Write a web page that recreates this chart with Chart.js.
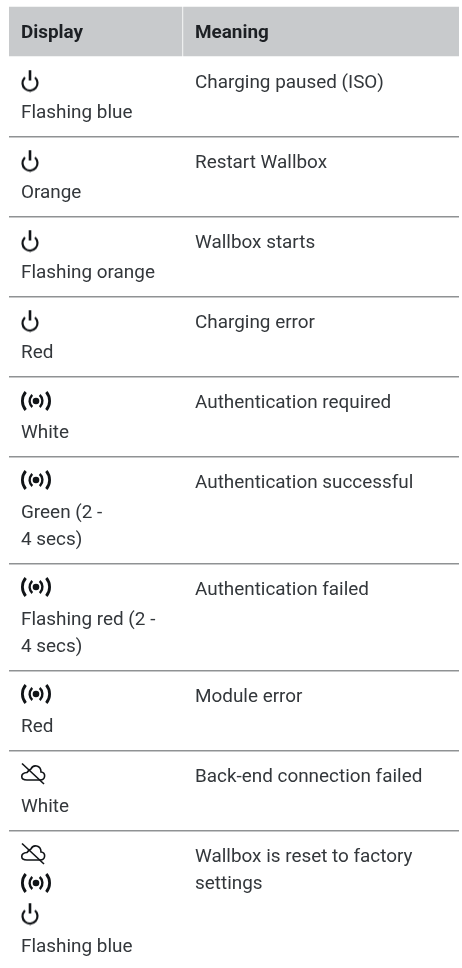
<!DOCTYPE html>
<html>
<head>
<meta charset="utf-8">
<style>
html, body { margin: 0; padding: 0; background: #fff; }
#wrap { width: 462px; height: 968px; }
</style>
<script src="https://cdn.jsdelivr.net/npm/chart.js@4"></script>
</head>
<body>
<div id="wrap"><canvas id="table"></canvas></div>
<script>
// table rows, top to bottom
const headers = ["Display", "Meaning"]
const headerY = 38
const displayLabels = ["Flashing blue", "Orange", "Flashing orange", "Red", "White", "Green (2 -", "4 secs)", "Flashing red (2 -", "4 secs)", "Red", "White", "Flashing blue"]
const displayY = [117.5, 197.5, 278, 357.5, 437.5, 517.5, 544.5, 625, 651.5, 731.5, 811.5, 951.5]
const meaningLabels = ["Charging paused (ISO)", "Restart Wallbox", "Wallbox starts", "Charging error", "Authentication required", "Authentication successful", "Authentication failed", "Module error", "Back-end connection failed", "Wallbox is reset to factory", "settings"]
const meaningY = [88, 168, 248, 328, 408, 488, 595, 702, 782, 862, 889]
const rowLines = [137, 217, 297, 377, 457, 564, 671, 751, 831]
const powerY = [81, 161, 241, 321, 914]
const signalY = [401, 480, 587, 694, 883]
const cloudY = [774, 854]
const headerCols = [[9, 182], [183.5, 459]]
const headerBand = 31.5

const inkColor = "#111417"
const textColor = "#33373b"

function iconCanvas(w, h, draw) {
	let c = document.createElement("canvas")
	c.width = w
	c.height = h
	let g = c.getContext("2d")
	g.strokeStyle = inkColor
	g.fillStyle = inkColor
	g.lineWidth = 2
	draw(g)
	return c
}

let powerIcon = iconCanvas(20, 23, g => {
	g.lineWidth = 2.2
	g.beginPath()
	g.arc(10, 13.6, 7.5, -0.85, Math.PI + 0.85)
	g.stroke()
	g.lineWidth = 2.6
	g.beginPath()
	g.moveTo(10, 0.5)
	g.lineTo(10, 11)
	g.stroke()
})

let signalIcon = iconCanvas(32, 22, g => {
	g.beginPath()
	g.arc(16, 11, 3.3, 0, Math.PI * 2)
	g.fill()
	g.lineWidth = 2.4
	g.beginPath()
	g.arc(17.6, 11, 8, Math.PI - 0.85, Math.PI + 0.85)
	g.stroke()
	g.beginPath()
	g.arc(14.4, 11, 8, -0.85, 0.85)
	g.stroke()
	g.lineWidth = 2.8
	g.beginPath()
	g.arc(16.4, 11, 14, Math.PI - 0.7, Math.PI + 0.7)
	g.stroke()
	g.beginPath()
	g.arc(15.6, 11, 14, -0.7, 0.7)
	g.stroke()
})

let cloudIcon = iconCanvas(26, 24, g => {
	g.lineWidth = 1.6
	g.beginPath()
	g.moveTo(7, 18)
	g.lineTo(20, 18)
	g.bezierCurveTo(26, 18, 26, 10, 21, 10)
	g.bezierCurveTo(21, 3, 13, 2, 11, 7)
	g.bezierCurveTo(9, 8, 8, 9, 7, 10.5)
	g.bezierCurveTo(0, 11, 0, 18, 7, 18)
	g.stroke()
	g.beginPath()
	g.moveTo(2, 1.5)
	g.lineTo(24, 22)
	g.stroke()
})

const tableText = {
	id: "tableText",
	afterDatasetsDraw(chart) {
		let ctx = chart.ctx
		let x = chart.scales.x
		let y = chart.scales.y
		ctx.save()
		ctx.textAlign = "left"
		ctx.textBaseline = "alphabetic"
		ctx.fillStyle = "#1d2024"
		ctx.font = "bold 18.9px Roboto"
		ctx.fillText(headers[0], x.getPixelForValue(21), y.getPixelForValue(headerY))
		ctx.fillText(headers[1], x.getPixelForValue(195), y.getPixelForValue(headerY))
		ctx.fillStyle = textColor
		ctx.font = "18.9px Roboto"
		for(let i = 0; i < displayLabels.length; ++i) {
			ctx.fillText(displayLabels[i], x.getPixelForValue(21), y.getPixelForValue(displayY[i]))
		}
		for(let i = 0; i < meaningLabels.length; ++i) {
			ctx.fillText(meaningLabels[i], x.getPixelForValue(195), y.getPixelForValue(meaningY[i]))
		}
		ctx.restore()
	}
}

new Chart(document.getElementById("table"), {
	type: "bar",
	data: {
		datasets: [{
			type: "bar",
			indexAxis: "y",
			data: headerCols.map(c => ({x: c, y: headerBand})),
			backgroundColor: "#c8cacc",
			barThickness: 49,
			grouped: false,
		}, {
			type: "scatter",
			data: powerY.map(v => ({x: 30, y: v})),
			pointStyle: powerIcon,
		}, {
			type: "scatter",
			data: signalY.map(v => ({x: 36, y: v})),
			pointStyle: signalIcon,
		}, {
			type: "scatter",
			data: cloudY.map(v => ({x: 33, y: v})),
			pointStyle: cloudIcon,
		}]
	},
	plugins: [tableText],
	options: {
		responsive: true,
		maintainAspectRatio: false,
		animation: false,
		layout: {autoPadding: false, padding: {left: 9, right: 3, top: 0, bottom: 0}},
		plugins: {legend: {display: false}, tooltip: {enabled: false}},
		scales: {
			x: {type: "linear", min: 9, max: 459, offset: false, display: false},
			y: {
				type: "linear",
				min: 0,
				max: 968,
				reverse: true,
				offset: false,
				afterBuildTicks: axis => { axis.ticks = rowLines.map(v => ({value: v})) },
				ticks: {display: false},
				border: {display: false},
				grid: {offset: false, drawTicks: false, color: "#8f9294", lineWidth: 1.4},
			},
		}
	}
})
</script>
</body>
</html>
